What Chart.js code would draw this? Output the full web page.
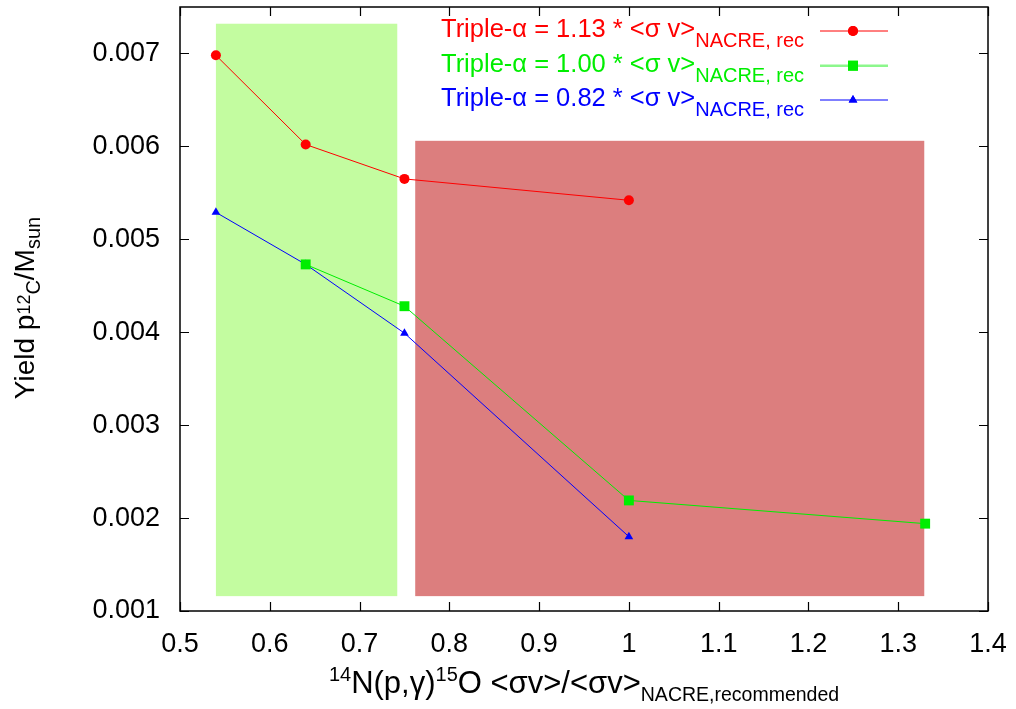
<!DOCTYPE html>
<html>
<head>
<meta charset="utf-8">
<script src="https://cdn.jsdelivr.net/npm/chart.js@4.4.1/dist/chart.umd.min.js"></script>
<style>
html,body{margin:0;padding:0;background:#ffffff;}
#wrap{width:1016px;height:709px;}
</style>
</head>
<body>
<div id="wrap"><canvas id="c" width="1016" height="709"></canvas></div>
<script>
// ---- data ----
const xTickValues = [0.5, 0.6, 0.7, 0.8, 0.9, 1.0, 1.1, 1.2, 1.3, 1.4];
const xTickLabels = ['0.5', '0.6', '0.7', '0.8', '0.9', '1', '1.1', '1.2', '1.3', '1.4'];
const yTickValues = [0.001, 0.002, 0.003, 0.004, 0.005, 0.006, 0.007];
const yTickLabels = ['0.001', '0.002', '0.003', '0.004', '0.005', '0.006', '0.007'];

const redX = [0.54, 0.64, 0.75, 1.00];
const redY = [0.00698, 0.00602, 0.00565, 0.00542];
const greenX = [0.64, 0.75, 1.00, 1.33];
const greenY = [0.00473, 0.00428, 0.00219, 0.00194];
const blueX = [0.54, 0.64, 0.75, 1.00];
const blueY = [0.00529, 0.00473, 0.00399, 0.00180];

const lowBandX = [0.54, 0.742];
const lowBandY = [0.00116, 0.00732];
const highBandX = [0.762, 1.329];
const highBandY = [0.00116, 0.00606];

const seriesNames = ['1.13', '1.00', '0.82'];

// ---- helpers ----
const FAM = '"Liberation Sans", Arial, Helvetica, sans-serif';
function pts(xs, ys) { return xs.map((v, i) => ({ x: v, y: ys[i] })); }
function richWidth(ctx, parts) {
  let w = 0;
  parts.forEach(p => { ctx.font = p.size + 'px ' + FAM; w += ctx.measureText(p.t).width; });
  return w;
}
function drawRich(ctx, parts, x, y) {
  parts.forEach(p => {
    ctx.font = p.size + 'px ' + FAM;
    ctx.fillText(p.t, x, y + (p.dy || 0));
    x += ctx.measureText(p.t).width;
  });
  return x;
}
function zeroPad(s) { s.paddingTop = 0; s.paddingBottom = 0; s.paddingLeft = 0; s.paddingRight = 0; }

const COLORS = ['#ff0000', '#00ee00', '#0000ff'];
const MARKERS = ['circle', 'rect', 'triangle'];
const RADII = [5, 7, 5];

const bandsPlugin = {
  id: 'bands',
  beforeDatasetsDraw(chart) {
    const { ctx, scales: { x, y } } = chart;
    const draw = (bx, by, col) => {
      const x0 = x.getPixelForValue(bx[0]), x1 = x.getPixelForValue(bx[1]);
      const y0 = y.getPixelForValue(by[0]), y1 = y.getPixelForValue(by[1]);
      ctx.fillStyle = col;
      ctx.fillRect(x0, y1, x1 - x0, y0 - y1);
    };
    ctx.save();
    draw(lowBandX, lowBandY, '#c3fca0');
    draw(highBandX, highBandY, '#dc7e7e');
    ctx.restore();
  }
};

const framePlugin = {
  id: 'frame',
  afterDatasetsDraw(chart) {
    const { ctx, chartArea: a, scales: { x, y } } = chart;
    ctx.save();
    ctx.strokeStyle = '#000';
    ctx.lineWidth = 1.5;
    ctx.strokeRect(a.left, a.top, a.right - a.left, a.bottom - a.top);
    ctx.lineWidth = 1.2;
    const tl = 9;
    ctx.beginPath();
    xTickValues.forEach(v => {
      const px = Math.round(x.getPixelForValue(v)) + 0.5;
      ctx.moveTo(px, a.bottom); ctx.lineTo(px, a.bottom - tl);
      ctx.moveTo(px, a.top); ctx.lineTo(px, a.top + tl);
    });
    yTickValues.forEach(v => {
      const py = Math.round(y.getPixelForValue(v)) + 0.5;
      ctx.moveTo(a.left, py); ctx.lineTo(a.left + tl, py);
      ctx.moveTo(a.right, py); ctx.lineTo(a.right - tl, py);
    });
    ctx.stroke();
    ctx.restore();
  }
};

const textPlugin = {
  id: 'texts',
  afterDraw(chart) {
    const { ctx } = chart;
    ctx.save();
    ctx.textBaseline = 'alphabetic';
    ctx.textAlign = 'left';
    // legend
    const rowsY = [31, 65.7, 100];
    seriesNames.forEach((n, i) => {
      ctx.fillStyle = COLORS[i];
      const parts = [
        { t: 'Triple-\u03b1 = ' + n + ' * <\u03c3 v>', size: 25.5 },
        { t: 'NACRE, rec', size: 20, dy: 10 }
      ];
      drawRich(ctx, parts, 441, rowsY[i] + 6);
      // sample line
      ctx.strokeStyle = i === 1 ? 'rgba(0,238,0,0.45)' : COLORS[i];
      ctx.lineWidth = i === 1 ? 2.5 : 1;
      ctx.beginPath();
      ctx.moveTo(820, rowsY[i]); ctx.lineTo(888, rowsY[i]);
      ctx.stroke();
      ctx.fillStyle = COLORS[i];
      Chart.helpers.drawPoint(ctx, { pointStyle: MARKERS[i], radius: RADII[i], rotation: 0, borderWidth: 0 }, 853, rowsY[i]);
      ctx.fill();
    });
    // x title
    ctx.fillStyle = '#000';
    const xt = [
      { t: '14', size: 20, dy: -12 },
      { t: 'N(p,\u03b3)', size: 31 },
      { t: '15', size: 20, dy: -12 },
      { t: 'O <\u03c3v>/<\u03c3v>', size: 31 },
      { t: 'NACRE,recommended', size: 19.5, dy: 8 }
    ];
    const w = richWidth(ctx, xt);
    drawRich(ctx, xt, 584 - w / 2, 693);
    // y title
    ctx.translate(34, 0);
    ctx.rotate(-Math.PI / 2);
    const yt = [
      { t: 'Yield p', size: 28 },
      { t: '12', size: 18, dy: -4 },
      { t: 'C', size: 20, dy: 6 },
      { t: '/M', size: 28 },
      { t: 'sun', size: 20, dy: 6 }
    ];
    const wy = richWidth(ctx, yt);
    drawRich(ctx, yt, -308 - wy / 2, 0);
    ctx.restore();
  }
};

const mkDs = (i, xs, ys, order) => ({
  label: seriesNames[i],
  data: pts(xs, ys),
  borderColor: COLORS[i],
  backgroundColor: COLORS[i],
  borderWidth: 1,
  pointStyle: MARKERS[i],
  pointRadius: RADII[i],
  pointBorderWidth: 0,
  pointBackgroundColor: COLORS[i],
  showLine: true,
  tension: 0,
  order: order,
  clip: false
});

new Chart(document.getElementById('c'), {
  type: 'scatter',
  data: {
    datasets: [
      mkDs(0, redX, redY, 3),
      mkDs(1, greenX, greenY, 1),
      mkDs(2, blueX, blueY, 2)
    ]
  },
  options: {
    responsive: false,
    animation: false,
    events: [],
    layout: { padding: { left: 0, right: 28, top: 5, bottom: 0 } },
    plugins: { legend: { display: false }, tooltip: { enabled: false } },
    scales: {
      x: {
        type: 'linear', min: 0.5, max: 1.4,
        afterBuildTicks: s => { s.ticks = xTickValues.map(v => ({ value: v })); },
        afterFit: s => { s.height = 98; zeroPad(s); },
        grid: { display: false, drawTicks: false },
        border: { display: false },
        ticks: {
          padding: 17, color: '#000', maxRotation: 0, autoSkip: false,
          font: { family: FAM, size: 27 },
          callback: (v, i) => xTickLabels[i]
        }
      },
      y: {
        type: 'linear', min: 0.001, max: 0.0075,
        afterBuildTicks: s => { s.ticks = yTickValues.map(v => ({ value: v })); },
        afterFit: s => { s.width = 180; zeroPad(s); },
        grid: { display: false, drawTicks: false },
        border: { display: false },
        ticks: {
          padding: 20, color: '#000', autoSkip: false,
          font: { family: FAM, size: 27 },
          callback: (v, i) => yTickLabels[i]
        }
      }
    }
  },
  plugins: [bandsPlugin, framePlugin, textPlugin]
});
</script>
</body>
</html>
